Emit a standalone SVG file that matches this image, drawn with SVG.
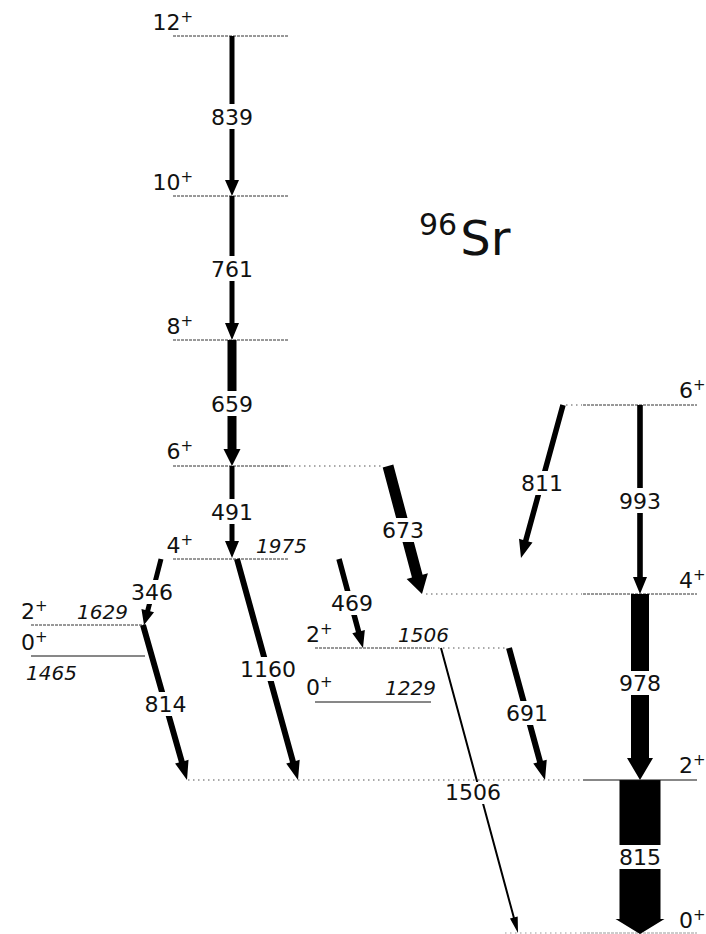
<svg xmlns="http://www.w3.org/2000/svg" width="706" height="934" viewBox="0 0 706 934">
<style>
.lvl{stroke:#333;stroke-width:1;stroke-dasharray:3 1;fill:none}
.dot{stroke:#555;stroke-width:1;stroke-dasharray:1.5 3.5;fill:none}
.sol{stroke:#111;stroke-width:1;fill:none}
.arr{fill:#000;stroke:none}
.bg{fill:#fff;stroke:none}
.tl{font-family:"DejaVu Sans",sans-serif;font-size:22px;fill:#111;text-anchor:middle}
.jp{font-family:"DejaVu Sans",sans-serif;font-size:22px;fill:#111}
.en{font-family:"DejaVu Sans",sans-serif;font-size:20px;font-style:italic;fill:#111}
.sup{font-size:15px}
.ttl{font-family:"DejaVu Sans",sans-serif;font-size:48px;fill:#111}
</style>
<rect width="706" height="934" fill="#fff"/>

<g id="title"><text class="ttl" x="419" y="255"><tspan font-size="30" dy="-20">96</tspan><tspan dx="3" dy="20">Sr</tspan></text></g>

<g id="levels">
<g id="lvl-12"><line class="lvl" x1="173" y1="36" x2="288" y2="36"/><text class="jp" x="193" y="30" text-anchor="end">12<tspan class="sup" dy="-8">+</tspan></text></g>
<g id="lvl-10"><line class="lvl" x1="173" y1="196" x2="288" y2="196"/><text class="jp" x="193" y="190" text-anchor="end">10<tspan class="sup" dy="-8">+</tspan></text></g>
<g id="lvl-8"><line class="lvl" x1="173" y1="340" x2="288" y2="340"/><text class="jp" x="193" y="334" text-anchor="end">8<tspan class="sup" dy="-8">+</tspan></text></g>
<g id="lvl-6a"><line class="lvl" x1="173" y1="466" x2="288" y2="466"/><line class="dot" x1="289" y1="466" x2="383" y2="466"/><text class="jp" x="193" y="459" text-anchor="end">6<tspan class="sup" dy="-8">+</tspan></text></g>
<g id="lvl-4a"><line class="lvl" x1="173" y1="559" x2="288" y2="559"/><text class="jp" x="193" y="553" text-anchor="end">4<tspan class="sup" dy="-8">+</tspan></text><text class="en" x="256" y="553">1975</text></g>
<g id="lvl-2c"><line class="lvl" x1="31" y1="625" x2="145" y2="625"/><text class="jp" x="21" y="619">2<tspan class="sup" dy="-8">+</tspan></text><text class="en" x="77" y="619">1629</text></g>
<g id="lvl-0c"><line class="sol" x1="31" y1="656" x2="145" y2="656"/><text class="jp" x="21" y="650">0<tspan class="sup" dy="-8">+</tspan></text><text class="en" x="26" y="680">1465</text></g>
<g id="lvl-2b"><line class="lvl" x1="315" y1="648" x2="432" y2="648"/><line class="dot" x1="433" y1="648" x2="507" y2="648"/><text class="jp" x="306" y="642">2<tspan class="sup" dy="-8">+</tspan></text><text class="en" x="398" y="642">1506</text></g>
<g id="lvl-0b"><line class="sol" x1="315" y1="702" x2="431" y2="702"/><text class="jp" x="306" y="695">0<tspan class="sup" dy="-8">+</tspan></text><text class="en" x="385" y="695">1229</text></g>
<g id="lvl-6b"><line class="dot" x1="566" y1="405" x2="582" y2="405"/><line class="lvl" x1="583" y1="405" x2="697" y2="405"/><text class="jp" x="679" y="398">6<tspan class="sup" dy="-8">+</tspan></text></g>
<g id="lvl-4b"><line class="dot" x1="426" y1="594" x2="582" y2="594"/><line class="lvl" x1="583" y1="594" x2="697" y2="594"/><text class="jp" x="679" y="588">4<tspan class="sup" dy="-8">+</tspan></text></g>
<g id="lvl-0a"><line class="dot" x1="505" y1="933" x2="582" y2="933" opacity="0.6"/><line class="lvl" x1="583" y1="933" x2="697" y2="933" opacity="0.5"/><text class="jp" x="679" y="928">0<tspan class="sup" dy="-8">+</tspan></text></g>
</g>

<g id="connectors">
<g id="t839"><polygon class="arr" points="229.5,36 234.5,36 234.5,180 239,180 232,196 225,180 229.5,180"/><rect class="bg" x="209" y="104" width="46" height="25"/><text class="tl" x="232" y="124.5">839</text></g>
<g id="t761"><polygon class="arr" points="229.5,196 234.5,196 234.5,323 239,323 232,340 225,323 229.5,323"/><rect class="bg" x="209" y="256" width="46" height="25"/><text class="tl" x="232" y="276.5">761</text></g>
<g id="t659"><polygon class="arr" points="227.5,340 236.5,340 236.5,449 240.5,449 232,466 223.5,449 227.5,449"/><rect class="bg" x="209" y="391" width="46" height="25"/><text class="tl" x="232" y="411.5">659</text></g>
<g id="t491"><polygon class="arr" points="229.5,466 234.5,466 234.5,541 239,541 232,558 225,541 229.5,541"/><rect class="bg" x="209" y="499" width="46" height="25"/><text class="tl" x="232" y="519.5">491</text></g>
<g id="t993"><polygon class="arr" points="637.2,405 642.8,405 642.8,577 647,577 640,594 633,577 637.2,577"/><rect class="bg" x="617" y="488" width="46" height="25"/><text class="tl" x="640" y="508.5">993</text></g>
<g id="t978"><polygon class="arr" points="631,594 649,594 649,758 653,758 640,780 627,758 631,758"/><rect class="bg" x="616" y="671" width="48" height="24"/><text class="tl" x="640" y="691">978</text></g>
<g id="t815"><polygon class="arr" points="619.5,780 660.5,780 660.5,919 664.5,919 640,934 615.5,919 619.5,919"/><rect class="bg" x="614" y="845" width="52" height="24"/><text class="tl" x="640" y="865">815</text></g>
<g id="t673"><polygon class="arr" transform="translate(388,466) rotate(-14.88)" points="-5.5,0 5.5,0 5.5,114 11,114 0,132.4 -11,114 -5.5,114"/><rect class="bg" x="379" y="518" width="48" height="24"/><text class="tl" x="403" y="538">673</text></g>
<g id="t811"><polygon class="arr" transform="translate(563,405) rotate(15.35)" points="-2.75,0 2.75,0 2.75,140.7 7,140.7 0,158.7 -7,140.7 -2.75,140.7"/><rect class="bg" x="518" y="471" width="48" height="24"/><text class="tl" x="542" y="491">811</text></g>
<g id="t346"><polygon class="arr" transform="translate(161,559) rotate(14.44)" points="-2.5,0 2.5,0 2.5,53.2 6.5,53.2 0,68.2 -6.5,53.2 -2.5,53.2"/><rect class="bg" x="129" y="580" width="47" height="24"/><text class="tl" x="152" y="600">346</text></g>
<g id="t814"><polygon class="arr" transform="translate(143,625) rotate(-15.85)" points="-3,0 3,0 3,142.1 7,142.1 0,161.1 -7,142.1 -3,142.1"/><rect class="bg" x="142" y="692" width="47" height="24"/><text class="tl" x="165.5" y="712">814</text></g>
<g id="t1160"><polygon class="arr" transform="translate(237,559) rotate(-15.43)" points="-3,0 3,0 3,210.3 7,210.3 0,229.3 -7,210.3 -3,210.3"/><rect class="bg" x="238" y="657" width="60" height="24"/><text class="tl" x="268" y="677">1160</text></g>
<g id="t469"><polygon class="arr" transform="translate(339,559) rotate(-15.09)" points="-2.75,0 2.75,0 2.75,75.2 6.5,75.2 0,92.2 -6.5,75.2 -2.75,75.2"/><rect class="bg" x="328" y="591" width="48" height="24"/><text class="tl" x="352" y="611">469</text></g>
<g id="t691"><polygon class="arr" transform="translate(509,648) rotate(-15.26)" points="-3,0 3,0 3,117.8 7,117.8 0,136.8 -7,117.8 -3,117.8"/><rect class="bg" x="503" y="701" width="48" height="24"/><text class="tl" x="527" y="721">691</text></g>
<g id="t1506"><polygon class="arr" transform="translate(441,648) rotate(-15.12)" points="-1,0 1,0 1,279.2 4,279.2 0,295.2 -4,279.2 -1,279.2"/><rect class="bg" x="443" y="782" width="60" height="22"/><text class="tl" x="473" y="800">1506</text></g>
</g>

<g id="lvl-2a"><line class="dot" x1="188" y1="780" x2="582" y2="780"/><line class="sol" x1="583" y1="780" x2="697" y2="780"/><text class="jp" x="679" y="773">2<tspan class="sup" dy="-8">+</tspan></text></g>
</svg>
